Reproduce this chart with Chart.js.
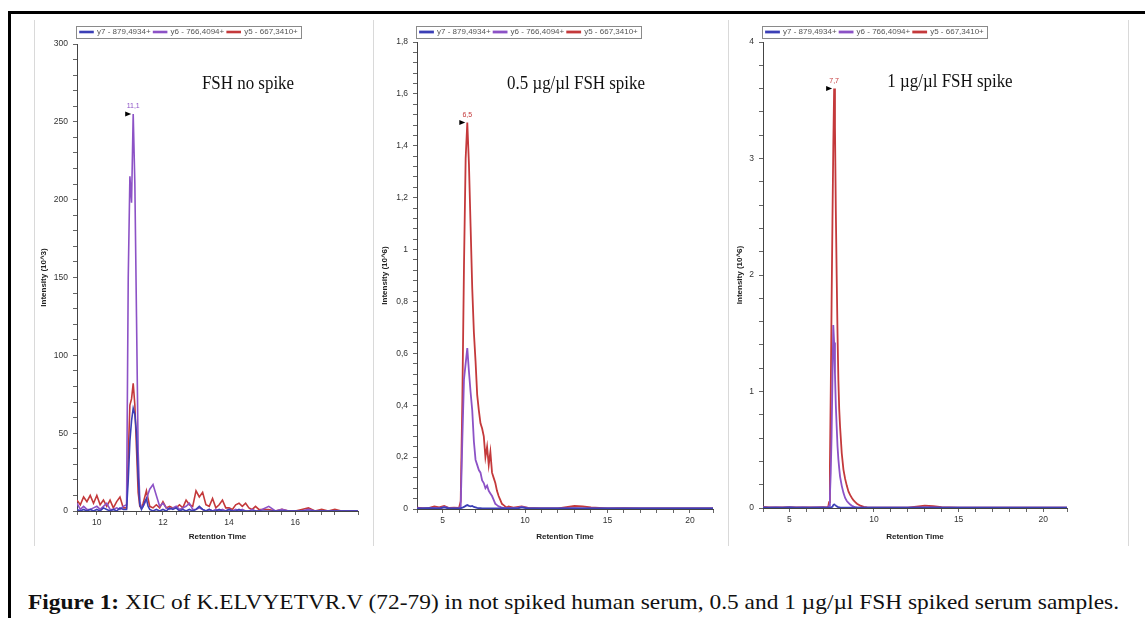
<!DOCTYPE html>
<html>
<head>
<meta charset="utf-8">
<script src="https://cdn.jsdelivr.net/npm/chart.js@4.4.1/dist/chart.umd.min.js"></script>
<style>
body { margin: 0; width: 1145px; height: 618px; overflow: hidden; background: #fff; position: relative; }
.frame { position: absolute; left: 8px; top: 11px; width: 1200px; height: 700px; border-left: 3px solid #000; border-top: 3px solid #000; }
.sep { position: absolute; top: 20px; height: 526px; width: 1px; background: #d9d9d9; }
canvas { position: absolute; top: 20px; }
#caption { position: absolute; left: 28px; top: 592px; font-family: 'Liberation Serif', serif; font-size: 21px; line-height: 21px; white-space: nowrap; transform-origin: 0 0; color: #111; }
</style>
</head>
<body>
<div class="frame"></div>
<div class="sep" style="left:34px"></div>
<div class="sep" style="left:373px"></div>
<div class="sep" style="left:728px"></div>
<div class="sep" style="left:1128px"></div>
<canvas id="c1" width="337" height="526" style="left:35px"></canvas>
<canvas id="c2" width="353" height="526" style="left:374px"></canvas>
<canvas id="c3" width="398" height="526" style="left:729px"></canvas>
<div id="caption"><b>Figure 1:</b> XIC of K.ELVYETVR.V (72-79) in not spiked human serum, 0.5 and 1 µg/µl FSH spiked serum samples.</div>
<script>
'use strict'
const seriesNames = ['y7 - 879,4934+', 'y6 - 766,4094+', 'y5 - 667,3410+'];
const seriesColors = ['#3b3fb6', '#8c52c6', '#c4393b'];

// panel 1 - FSH no spike (intensity 10^3)
const rt1 = [9.4, 9.5, 9.6, 9.7, 9.8, 9.9, 10.0, 10.1, 10.2, 10.3, 10.4, 10.5, 10.6, 10.7, 10.8, 10.9,
    10.95, 11.0, 11.05, 11.1, 11.15, 11.2, 11.25, 11.3, 11.35, 11.4, 11.45, 11.5, 11.55, 11.6,
    11.7, 11.8, 11.9, 12.0, 12.1, 12.2, 12.3, 12.4, 12.5, 12.6, 12.7, 12.8, 12.9, 13.0, 13.1, 13.2, 13.3, 13.4, 13.5, 13.6, 13.7, 13.8, 13.9, 14.0, 14.1, 14.2, 14.3, 14.4, 14.5, 14.6, 14.7, 14.8, 14.9, 15.0,
    15.2, 15.4, 15.6, 15.8, 16.0, 16.2, 16.4, 16.6, 16.8, 17.0, 17.2, 17.4, 17.6, 17.9];
const y7_1 = [1, 0, 1, 0, 1, 0, 1, 0, 2, 1, 0, 1, 0, 2, 1, 1,
    20, 45, 58, 66, 62, 50, 22, 4, 1, 3, 6, 8, 3, 1,
    0, 1, 0, 1, 0, 2, 1, 2, 0, 1, 0, 1, 0, 1, 3, 1, 0, 1, 0, 0, 1, 0, 0, 1, 0, 0, 1, 0, 0, 0, 0, 0, 0, 0,
    0, 0, 0, 0, 0, 0, 0, 0, 0, 0, 0, 0, 0, 0];
const y6_1 = [5, 1, 3, 1, 1, 2, 3, 1, 3, 5, 1, 1, 2, 1, 3, 4,
    150, 215, 198, 255, 210, 125, 38, 6, 2, 3, 5, 7, 11, 14,
    17, 10, 3, 5, 2, 1, 2, 3, 1, 2, 3, 5, 1, 1, 2, 1, 0, 1, 0, 1, 0, 1, 0, 1, 0, 1, 0, 1, 0, 0, 1, 0, 0, 1,
    3, 0, 1, 0, 0, 0, 1, 0, 0, 0, 0, 0, 0, 0];
const y5_1 = [7, 4, 9, 6, 10, 5, 10, 4, 7, 3, 7, 2, 6, 9, 2, 2,
    35, 68, 72, 82, 68, 40, 12, 3, 2, 5, 9, 13, 8, 3,
    2, 4, 2, 6, 2, 3, 2, 2, 4, 2, 7, 4, 3, 13, 9, 12, 4, 3, 8, 2, 4, 7, 2, 2, 1, 4, 5, 3, 5, 2, 1, 3, 1, 1,
    1, 0, 1, 0, 0, 1, 2, 0, 1, 0, 1, 0, 0, 0];

// panel 2 - 0.5 ug/ul FSH spike (intensity 10^6)
const rt2 = [3.4, 3.8, 4.2, 4.5, 4.8, 5.1, 5.4, 5.7, 6.0,
    6.1, 6.2, 6.3, 6.4, 6.5, 6.6, 6.7, 6.8, 6.9, 7.0, 7.1, 7.2, 7.3, 7.4, 7.5, 7.6, 7.7, 7.8, 7.9, 8.0, 8.1, 8.2, 8.3, 8.4, 8.5, 8.6, 8.7, 8.8, 8.9, 9.0,
    9.3, 9.6, 9.8, 10.2, 10.6, 11, 12, 13, 13.5, 14, 15, 16, 17, 18, 19, 20, 21, 21.4];
const y7_2 = [0.002, 0.002, 0.003, 0.002, 0.002, 0.006, 0.002, 0.002, 0.002,
    0.003, 0.005, 0.008, 0.012, 0.015, 0.012, 0.01, 0.012, 0.008, 0.006, 0.004, 0.003, 0.003, 0.002, 0.002, 0.002, 0.002, 0.002, 0.002, 0.002, 0.002, 0.002, 0.002, 0.002, 0.002, 0.002, 0.002, 0.002, 0.002, 0.002,
    0.002, 0.003, 0.006, 0.002, 0.002, 0.002, 0.002, 0.002, 0.002, 0.002, 0.002, 0.002, 0.002, 0.002, 0.002, 0.002, 0.002, 0.002];
const y6_2 = [0.003, 0.002, 0.003, 0.004, 0.002, 0.008, 0.003, 0.002, 0.003,
    0.01, 0.27, 0.5, 0.56, 0.62, 0.53, 0.45, 0.38, 0.26, 0.19, 0.17, 0.15, 0.14, 0.11, 0.1, 0.08, 0.09, 0.07, 0.06, 0.05, 0.035, 0.02, 0.015, 0.01, 0.008, 0.005, 0.004, 0.003, 0.003, 0.004,
    0.003, 0.005, 0.008, 0.003, 0.002, 0.002, 0.002, 0.003, 0.002, 0.002, 0.002, 0.002, 0.002, 0.002, 0.002, 0.002, 0.002, 0.002];
const y5_2 = [0.005, 0.003, 0.004, 0.01, 0.006, 0.012, 0.004, 0.005, 0.004,
    0.03, 0.42, 0.94, 1.35, 1.49, 1.33, 1.09, 0.85, 0.68, 0.57, 0.44, 0.38, 0.33, 0.31, 0.28, 0.2, 0.24, 0.17, 0.22, 0.14, 0.12, 0.1, 0.07, 0.05, 0.035, 0.02, 0.015, 0.01, 0.006, 0.01,
    0.005, 0.008, 0.01, 0.004, 0.003, 0.002, 0.002, 0.012, 0.01, 0.006, 0.002, 0.003, 0.002, 0.002, 0.002, 0.002, 0.002, 0.002];

// panel 3 - 1 ug/ul FSH spike (intensity 10^6)
const rt3 = [3.4, 3.8, 4.2, 4.6, 5.0, 5.4, 5.8, 6.2, 6.6, 7.0,
    7.2, 7.3, 7.35, 7.4, 7.45, 7.5, 7.55, 7.6, 7.65, 7.7, 7.75, 7.8, 7.85, 7.9, 7.95, 8.0,
    8.1, 8.2, 8.3, 8.4, 8.5, 8.6, 8.7, 8.8, 8.9, 9.0,
    9.2, 9.4, 9.6, 10.0, 11, 12, 13, 13.5, 14, 15, 16, 17, 18, 19, 20, 21, 21.4];
const y7_3 = [0.003, 0.003, 0.004, 0.003, 0.005, 0.003, 0.003, 0.003, 0.003, 0.004,
    0.003, 0.003, 0.003, 0.004, 0.006, 0.008, 0.01, 0.025, 0.03, 0.028, 0.02, 0.015, 0.01, 0.008, 0.006, 0.005,
    0.004, 0.003, 0.003, 0.003, 0.003, 0.003, 0.003, 0.003, 0.003, 0.003,
    0.003, 0.003, 0.003, 0.003, 0.003, 0.003, 0.003, 0.003, 0.003, 0.003, 0.003, 0.003, 0.003, 0.003, 0.003, 0.003, 0.003];
const y6_3 = [0.005, 0.004, 0.005, 0.004, 0.006, 0.004, 0.005, 0.004, 0.005, 0.005,
    0.004, 0.005, 0.02, 0.1, 0.3, 0.62, 1.1, 1.57, 1.42, 1.15, 0.88, 0.7, 0.53, 0.42, 0.34, 0.27,
    0.19, 0.13, 0.086, 0.06, 0.045, 0.03, 0.02, 0.012, 0.008, 0.005,
    0.004, 0.004, 0.004, 0.004, 0.004, 0.004, 0.006, 0.005, 0.004, 0.004, 0.004, 0.004, 0.004, 0.004, 0.004, 0.004, 0.004];
const y5_3 = [0.01, 0.005, 0.005, 0.005, 0.008, 0.005, 0.005, 0.005, 0.005, 0.008,
    0.005, 0.01, 0.05, 0.35, 1.0, 1.75, 2.45, 3.1, 3.6, 3.27, 2.55, 2.0, 1.5, 1.1, 0.85, 0.7,
    0.47, 0.33, 0.25, 0.19, 0.14, 0.11, 0.086, 0.065, 0.05, 0.037,
    0.02, 0.01, 0.006, 0.004, 0.003, 0.003, 0.02, 0.015, 0.008, 0.004, 0.003, 0.003, 0.002, 0.002, 0.002, 0.002, 0.002];

Chart.defaults.font.family = "'Liberation Sans', Arial, sans-serif";
Chart.defaults.font.size = 8;
Chart.defaults.color = '#333';

const commaNum = v => String(Math.round(v * 10) / 10).replace('.', ',');
const isMultiple = (v, m) => Math.abs(v / m - Math.round(v / m)) < 1e-6;

// rectangle round the legend, like the software draws it
const legendFrame = {
    id: 'legendFrame',
    afterDraw(chart) {
        const boxes = chart.legend && chart.legend.legendHitBoxes;
        if (!boxes || !boxes.length) return;
        const last = boxes[boxes.length - 1];
        const l = Math.round(boxes[0].left - 4) + 0.5;
        const r = Math.round(last.left + last.width + 3) + 0.5;
        const t = Math.round(boxes[0].top - 2) + 0.5;
        const b = Math.round(boxes[0].top + boxes[0].height + 2) + 0.5;
        const ctx = chart.ctx;
        ctx.save();
        ctx.strokeStyle = '#8a8a8a';
        ctx.lineWidth = 1;
        ctx.strokeRect(l, t, r - l, b - t);
        ctx.restore();
    }
};

// flag + retention time over the highest apex
const peakMarker = {
    id: 'peakMarker',
    afterDatasetsDraw(chart) {
        let best = null;
        chart.data.datasets.forEach((ds, di) => {
            ds.data.forEach((p, i) => {
                if (!best || p.y > best.p.y) best = { p, di, i };
            });
        });
        const el = chart.getDatasetMeta(best.di).data[best.i];
        const ctx = chart.ctx;
        ctx.save();
        ctx.fillStyle = '#000';
        ctx.beginPath();
        ctx.moveTo(el.x - 2, el.y);
        ctx.lineTo(el.x - 8, el.y - 2.5);
        ctx.lineTo(el.x - 8, el.y + 2.5);
        ctx.closePath();
        ctx.fill();
        ctx.fillStyle = chart.data.datasets[best.di].borderColor;
        ctx.font = "7px 'Liberation Sans', Arial";
        ctx.textAlign = 'center';
        ctx.textBaseline = 'bottom';
        ctx.fillText(commaNum(best.p.x), el.x, el.y - 4);
        ctx.restore();
    }
};

const panelTitle = {
    id: 'panelTitle',
    afterDraw(chart, args, opts) {
        const ctx = chart.ctx;
        ctx.save();
        ctx.fillStyle = '#111';
        ctx.font = "18px 'Liberation Serif', serif";
        ctx.textAlign = 'center';
        ctx.textBaseline = 'middle';
        ctx.translate(opts.x, opts.y);
        ctx.scale(0.94, 1);
        ctx.fillText(opts.text, 0, 0);
        ctx.restore();
    }
};

function makePanel(id, p) {
    const series = [p.y7, p.y6, p.y5];
    new Chart(document.getElementById(id), {
        type: 'line',
        data: {
            datasets: series.map((vals, k) => ({
                label: seriesNames[k],
                data: p.rt.map((t, i) => ({ x: t, y: vals[i] })),
                borderColor: seriesColors[k],
                backgroundColor: seriesColors[k],
                borderWidth: p.lineW,
                pointRadius: 0,
                tension: 0
            }))
        },
        options: {
            responsive: false,
            animation: false,
            layout: { padding: { top: 5, right: p.padRight, bottom: 0, left: 0 } },
            plugins: {
                tooltip: { enabled: false },
                legend: {
                    position: 'top',
                    align: 'start',
                    fullSize: false,
                    maxHeight: p.legendH,
                    labels: { boxWidth: 13, boxHeight: 1, padding: 3, font: { size: 8 }, color: '#555' }
                },
                panelTitle: { text: p.title, x: p.titleX, y: p.titleY }
            },
            scales: {
                x: {
                    type: 'linear',
                    min: p.xMin,
                    max: p.xMax,
                    afterFit: s => { s.height = p.xH; },
                    border: { color: '#444' },
                    grid: { drawOnChartArea: false, tickLength: 4, color: '#666' },
                    ticks: {
                        stepSize: p.xStep,
                        autoSkip: false,
                        maxRotation: 0,
                        padding: 3,
                        font: { size: 8.5 },
                        callback: v => isMultiple(v, p.xLabelEvery) ? String(Math.round(v)) : ''
                    },
                    title: { display: true, text: 'Retention Time', font: { size: 8, weight: 'bold' }, padding: { top: 0, bottom: 4 }, color: '#222' }
                },
                y: {
                    min: 0,
                    max: p.yMax,
                    afterFit: s => { s.width = p.yW; },
                    border: { color: '#444' },
                    grid: { drawOnChartArea: false, tickLength: 4, color: '#666' },
                    ticks: {
                        stepSize: p.yStep,
                        autoSkip: false,
                        padding: 5,
                        font: { size: 8.5 },
                        callback: v => isMultiple(v, p.yLabelEvery) ? commaNum(v) : ''
                    },
                    title: { display: true, text: p.yTitle, font: { size: 8, weight: 'bold' }, padding: { top: p.yTitlePad, bottom: 0 }, color: '#222' }
                }
            }
        },
        plugins: [legendFrame, peakMarker, panelTitle]
    });
}

makePanel('c1', {
    rt: rt1, y7: y7_1, y6: y6_1, y5: y5_1, lineW: 1.6,
    xMin: 9.4, xMax: 17.9, xStep: 0.4, xLabelEvery: 2,
    yMax: 300, yStep: 10, yLabelEvery: 50, yTitle: 'Intensity (10^3)',
    yW: 42, xH: 35, padRight: 14, legendH: 19, yTitlePad: 4,
    title: 'FSH no spike', titleX: 213, titleY: 64
});
makePanel('c2', {
    rt: rt2, y7: y7_2, y6: y6_2, y5: y5_2, lineW: 1.8,
    xMin: 3.45, xMax: 21.4, xStep: 1, xLabelEvery: 5,
    yMax: 1.8, yStep: 0.04, yLabelEvery: 0.2, yTitle: 'Intensity (10^6)',
    yW: 43, xH: 37, padRight: 14, legendH: 17, yTitlePad: 6,
    title: '0.5 µg/µl FSH spike', titleX: 202, titleY: 64
});
makePanel('c3', {
    rt: rt3, y7: y7_3, y6: y6_3, y5: y5_3, lineW: 1.8,
    xMin: 3.45, xMax: 21.4, xStep: 1, xLabelEvery: 5,
    yMax: 4, yStep: 0.2, yLabelEvery: 1, yTitle: 'Intensity (10^6)',
    yW: 34, xH: 38, padRight: 60, legendH: 17, yTitlePad: 6,
    title: '1 µg/µl FSH spike', titleX: 221, titleY: 62
});

const cap = document.getElementById('caption');
cap.style.transform = 'scaleX(' + (1091 / cap.getBoundingClientRect().width) + ')';
</script>
</body>
</html>
